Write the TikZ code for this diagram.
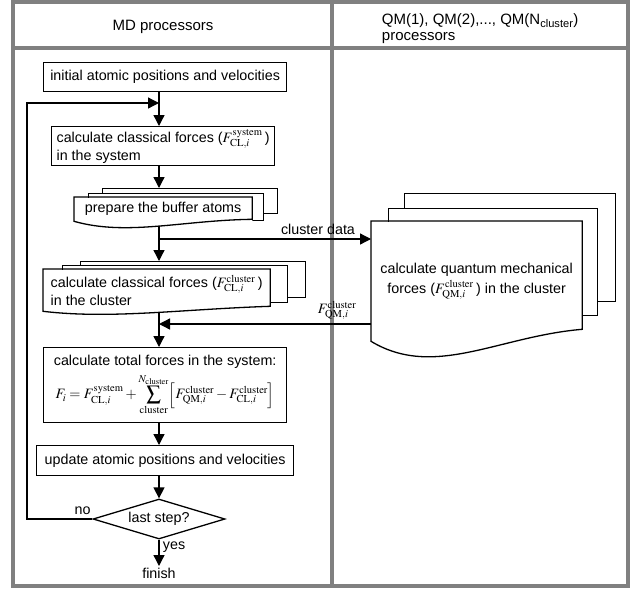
\documentclass[tikz,border=0pt]{standalone}
\usepackage{mathptmx}
\usepackage[no-math]{fontspec}
\setmainfont{Liberation Sans}
\usepackage{tikz}
\usetikzlibrary{arrows.meta,shapes.geometric,calc}

\begin{document}
\begin{tikzpicture}[->,>={Triangle[length=11pt,width=11pt]},line width=1.3pt,x=1pt,y=-1pt,
		font=\fontsize{14.3}{16.5}\selectfont]
		\tikzstyle{box}=[draw,fill=white,anchor=north west,inner sep=0pt,align=center]
		\tikzstyle{layer}=[draw,fill=white,anchor=north west,inner sep=0pt]
		\tikzstyle{front}=[fill=white,anchor=north west,inner sep=0pt,align=left]
		\tikzstyle{frame}=[-,draw=gray,line width=4pt]
		\tikzstyle{head}=[font=\fontsize{15}{15.5}\selectfont]
		
		\useasboundingbox (0,0) rectangle (635,590);
		
		% table frame
		\draw[frame] (13,2) rectangle (628,586);
		\draw[frame] (13,48) -- (628,48);
		\draw[frame] (332,2) -- (332,586);
		\node[head] (mdhead) at (163,27) {MD processors};
		\node[head,anchor=west,align=left] (qmhead) at (378,28.5)
			{QM(1), QM(2),..., QM(N\textsubscript{cluster})\\processors};
		
		\coordinate (axis) at (159,0);
		\coordinate (loop) at (27,103);
		\coordinate (split) at (159,239);
		\coordinate (merge) at (159,324);
		
		% MD side
		\node[box,minimum width=243pt,minimum height=29pt] (init) at (43,62)
			{initial atomic positions and velocities};
		\node[box,align=left,minimum width=223pt,minimum height=39pt] (clsys) at (51,126)
			{calculate classical forces ($F^{\mathrm{system}}_{\mathrm{CL},i}$\,)\\in the system};
		
		\node[layer,minimum width=175pt,minimum height=25pt] (bufC) at (102,188) {};
		\node[layer,minimum width=175pt,minimum height=27pt] (bufB) at (88,193) {};
		\node[front,align=center,minimum width=177pt,minimum height=23pt] (buf) at (74,197)
			{prepare the buffer atoms};
		\fill[white] (buf.south west) .. controls +(53,15) and +(-71,1) .. ([yshift=2pt]buf.south east) |- (buf.south west);
		\draw[-] (buf.south west) .. controls +(53,15) and +(-71,1) .. ([yshift=2pt]buf.south east)
			-- (buf.north east) -- (buf.north west) -- cycle;
		
		\node[layer,minimum width=225pt,minimum height=36pt] (cluC) at (80,261) {};
		\node[layer,minimum width=225pt,minimum height=37pt] (cluB) at (62,265) {};
		\node[front,minimum width=226pt,minimum height=41pt] (clu) at (43,269)
			{calculate classical forces ($F^{\mathrm{cluster}}_{\mathrm{CL},i}$\,)\\in the cluster};
		\fill[white] (clu.south west) .. controls +(68,8) and +(-90,3) .. ([yshift=5pt]clu.south east) |- (clu.south west);
		\draw[-] (clu.south west) .. controls +(68,8) and +(-90,3) .. ([yshift=5pt]clu.south east)
			-- (clu.north east) -- (clu.north west) -- cycle;
		
		\node[box,minimum width=243pt,minimum height=75pt] (total) at (43,347)
			{calculate total forces in the system:\\[5pt]
			$F_i = F^{\mathrm{system}}_{\mathrm{CL},i} + \displaystyle\sum_{\mathrm{cluster}}^{N_{\mathrm{cluster}}}
			\Bigl[F^{\mathrm{cluster}}_{\mathrm{QM},i} - F^{\mathrm{cluster}}_{\mathrm{CL},i}\Bigr]$};
		\node[box,minimum width=257pt,minimum height=30pt] (update) at (36,445)
			{update atomic positions and velocities};
		\node[draw,fill=white,diamond,aspect=3.3,inner sep=0pt,minimum width=132pt,minimum height=40pt]
			(last) at (159,519) {last step?};
		\node[inner sep=1pt,anchor=north] (finish) at (159,566) {finish};
		
		% QM side
		\node[layer,minimum width=211pt,minimum height=108pt] (qmC) at (404,193) {};
		\node[layer,minimum width=209pt,minimum height=107pt] (qmB) at (388,208) {};
		\node[front,align=center,minimum width=210pt,minimum height=119pt,
			font=\fontsize{14.3}{20}\selectfont] (qm) at (371,221)
			{calculate quantum mechanical\\forces ($F^{\mathrm{cluster}}_{\mathrm{QM},i}$\,) in the cluster};
		\fill[white] (qm.south west) .. controls +(63,38) and +(-84,7) .. ([yshift=12pt]qm.south east) |- (qm.south west);
		\draw[-] (qm.south west) .. controls +(63,38) and +(-84,7) .. ([yshift=12pt]qm.south east)
			-- (qm.north east) -- (qm.north west) -- cycle;
		
		% flow
		\draw (init.south -| axis) -- (clsys.north -| axis);
		\draw (clsys.south -| axis) -- (bufC.north -| axis);
		\draw ($(buf.south -| axis)+(0,5)$) -- (cluC.north -| axis);
		\draw (split) -- node[pos=0.75,above] {cluster data} (split -| qm.west);
		\draw (merge -| qm.west) -- node[pos=0.16,above] {$F^{\mathrm{cluster}}_{\mathrm{QM},i}$} (merge);
		\draw ($(clu.south -| axis)+(0,2)$) -- (total.north -| axis);
		\draw (total.south -| axis) -- (update.north -| axis);
		\draw (update.south -| axis) -- (last.north);
		\draw (last.south) -- node[pos=0.3,right] {yes} (finish.north);
		\draw (last.west) -- node[pos=0.15,above] {no} (last.west -| loop) -- (loop) -- (loop -| axis);
\end{tikzpicture}
\end{document}
